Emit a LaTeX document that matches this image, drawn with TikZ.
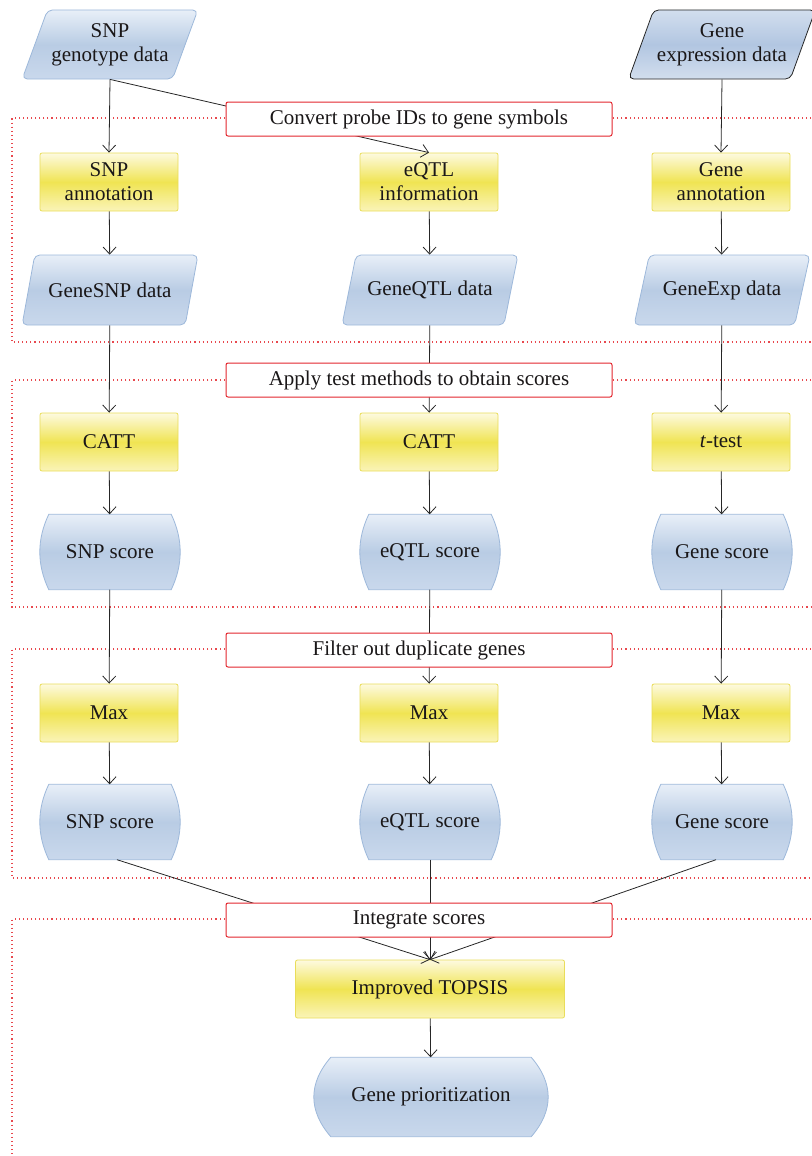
\documentclass[tikz,border=0pt]{standalone}
\usepackage{fontspec}
\setmainfont{Liberation Serif}
\usetikzlibrary{positioning,shapes.geometric,arrows.meta,backgrounds}
\definecolor{txt}{HTML}{1A1718}
\definecolor{bluetop}{HTML}{E8EFF8}
\definecolor{bluemid}{HTML}{B9CCE4}
\definecolor{bluebot}{HTML}{C9D8EC}
\definecolor{blueline}{HTML}{9DB8DA}
\definecolor{darktop}{HTML}{D2DEEE}
\definecolor{darkmid}{HTML}{B2C6E1}
\definecolor{yellowtop}{HTML}{FDFAE0}
\definecolor{yellowmid}{HTML}{F0E453}
\definecolor{yellowbot}{HTML}{FAF4B8}
\definecolor{yellowline}{HTML}{E9DD5A}
\definecolor{stagered}{HTML}{E3262E}
\definecolor{framered}{HTML}{E8484E}

\newcommand{\barrel}[3]{%
	\path[draw=blueline, line width=0.8pt, top color=bluetop, bottom color=bluebot, middle color=bluemid]
		([xshift=#2pt]#1.north west) -- ([xshift=-#2pt]#1.north east)
		.. controls ([xshift=#2*0.333pt,yshift=-#3pt]#1.north east) and ([xshift=#2*0.333pt,yshift=#3pt]#1.south east) .. ([xshift=-#2pt]#1.south east)
		-- ([xshift=#2pt]#1.south west)
		.. controls ([xshift=-#2*0.333pt,yshift=#3pt]#1.south west) and ([xshift=-#2*0.333pt,yshift=-#3pt]#1.north west) .. ([xshift=#2pt]#1.north west)
		-- cycle;}

\begin{document}
\begin{tikzpicture}[x=1pt,y=-1pt
	,every node/.append style={font=\fontsize{21}{24}\selectfont, text=txt, align=center}
	,data/.style={trapezium, trapezium left angle=63, trapezium right angle=117, trapezium stretches=true, minimum width=176pt, minimum height=69pt, rounded corners=5pt, draw=blueline, line width=0.8pt, top color=bluetop, bottom color=bluebot, middle color=bluemid}
	,rawdata/.style={data, draw=black!85, top color=darktop, bottom color=darktop, middle color=darkmid}
	,proc/.style={rectangle, rounded corners=2pt, draw=yellowline, line width=0.8pt, minimum width=138pt, minimum height=58pt, top color=yellowtop, bottom color=yellowbot, middle color=yellowmid}
	,score/.style={rectangle, minimum width=140pt, minimum height=75pt}
	,stage/.style={rectangle, rounded corners=2pt, draw=stagered, line width=1pt, fill=white, minimum width=386pt, minimum height=34pt}
	,frame/.style={draw=framered, line width=1.1pt, dash pattern=on 1.1pt off 3pt}
	,link/.style={draw=black!85, line width=0.8pt, -{Straight Barb[length=7pt,width=13pt]}}
]
	\useasboundingbox (0,0) rectangle (811,1156);

	\path[frame] (811,118) -- (12,118) -- (12,342) -- (811,342);
	\path[frame] (811,380) -- (12,380) -- (12,607) -- (811,607);
	\path[frame] (811,649) -- (12,649) -- (12,878) -- (811,878);
	\path[frame] (811,919) -- (12,919) -- (12,1156);

	\node [data] (gen) at (110,44.5) {SNP\\genotype data};
	\node [rawdata] (exp) at (722,44.5) {Gene\\expression data};

	\node [proc] (snpann) at (109,182) {SNP\\annotation};
	\node [proc] (eqtlinfo) at (429,182) {eQTL\\information};
	\node [proc] (geneann) at (721,182) {Gene\\annotation};

	\node [data, minimum height=70pt] (genesnp) at (110,290) {GeneSNP data};
	\node [data, minimum height=70pt] (geneqtl) at (430,290) {GeneQTL data};
	\node [data, minimum height=70pt] (geneexp) at (722,290) {GeneExp data};

	\node [proc] (catta) at (109,442) {CATT};
	\node [proc] (cattb) at (429,442) {CATT};
	\node [proc] (ttest) at (721,442) {\textit{t}-test};

	\node [score] (snpsca) at (110,552) {SNP score};
	\node [score] (eqtlsca) at (430,552) {eQTL score};
	\node [score] (genesca) at (722,552) {Gene score};

	\node [proc] (maxa) at (109,713) {Max};
	\node [proc] (maxb) at (429,713) {Max};
	\node [proc] (maxc) at (721,713) {Max};

	\node [score] (snpscb) at (110,822) {SNP score};
	\node [score] (eqtlscb) at (430,822) {eQTL score};
	\node [score] (genescb) at (722,822) {Gene score};

	\node [proc, minimum width=269pt] (topsis) at (430,989) {Improved TOPSIS};
	\node [score, minimum width=234pt, minimum height=79pt] (prior) at (431,1097) {Gene prioritization};

	\begin{pgfonlayer}{background}
		\foreach \s in {snpsca,eqtlsca,genesca,snpscb,eqtlscb,genescb}
			{\barrel{\s}{9}{25}}
		\barrel{prior}{17}{26}
	\end{pgfonlayer}

	\draw [link] (gen.south) -- (snpann.north);
	\draw [link] (gen.south) -- (eqtlinfo.north);
	\draw [link] (exp.south) -- (geneann.north);
	\draw [link] (snpann) -- (genesnp);
	\draw [link] (eqtlinfo) -- (geneqtl);
	\draw [link] (geneann) -- (geneexp);
	\draw [link] (genesnp) -- (catta);
	\draw [link] (geneqtl) -- (cattb);
	\draw [link] (geneexp) -- (ttest);
	\draw [link] (catta) -- (snpsca);
	\draw [link] (cattb) -- (eqtlsca);
	\draw [link] (ttest) -- (genesca);
	\draw [link] (snpsca) -- (maxa);
	\draw [link] (eqtlsca) -- (maxb);
	\draw [link] (genesca) -- (maxc);
	\draw [link] (maxa) -- (snpscb);
	\draw [link] (maxb) -- (eqtlscb);
	\draw [link] (maxc) -- (genescb);
	\draw [link] ([xshift=7pt]snpscb.south) -- (topsis.north);
	\draw [link] (eqtlscb.south) -- (topsis.north);
	\draw [link] ([xshift=-6pt]genescb.south) -- (topsis.north);
	\draw [link] (topsis) -- (prior);

	\node [stage] (convert) at (419,119) {Convert probe IDs to gene symbols};
	\node [stage] (apply) at (419,380) {Apply test methods to obtain scores};
	\node [stage] (filter) at (419,650) {Filter out duplicate genes};
	\node [stage] (integrate) at (419,920) {Integrate scores};
\end{tikzpicture}
\end{document}
